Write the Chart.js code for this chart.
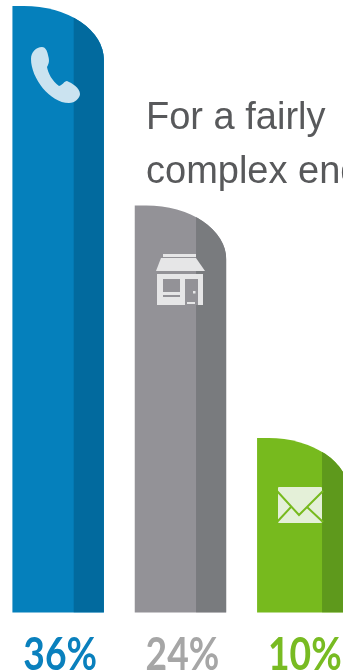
<!DOCTYPE html>
<html lang="en">
<head>
  <meta charset="UTF-8" />
  <title>For a fairly complex enquiry</title>
  <script src="https://cdn.jsdelivr.net/npm/chart.js"></script>
  <style>
    html, body {
      margin: 0;
      padding: 0;
      background: #fff;
      overflow: hidden;
    }
    #page {
      position: relative;
      width: 343px;
      height: 672px;
      overflow: hidden;
    }
    /* wider than the page so the last bar runs off the right edge */
    #chart-container {
      position: absolute;
      left: -3px;
      top: 0;
      width: 367px;
      height: 672px;
    }
    #icons {
      position: absolute;
      left: 0;
      top: 0;
    }
    #heading {
      position: absolute;
      left: 146px;
      top: 89px;
      font-family: 'Liberation Sans', Arial, sans-serif;
      font-size: 38px;
      line-height: 54px;
      color: #58595b;
      white-space: nowrap;
    }
  </style>
</head>
<body>
  <div id="page">
    <div id="chart-container">
      <canvas id="channelChart"></canvas>
    </div>

    <svg id="icons" width="343" height="672">
      <!-- phone -->
      <path fill="#cbe3f0" d="M31 59C31 52 36 47 42 47C45 47 47 50 48 55C49 59 50 62 47 67C48 73 52 81 59 86C63 85 64 81 67 81C72 83 80 88 80 94C80 98 75 103 69 103C50 103 31 78 31 59Z"/>
      <!-- shop -->
      <g fill="#e6e6e7">
        <rect x="163" y="254" width="33" height="3"/>
        <path d="M161 258H196L205 271H156Z"/>
        <rect x="157" y="274" width="46" height="31"/>
      </g>
      <g fill="#939297">
        <rect x="163" y="279" width="17" height="13"/>
        <rect x="163" y="295" width="17" height="2"/>
        <rect x="185" y="279" width="13" height="26"/>
      </g>
      <g fill="#e6e6e7">
        <rect x="193" y="291" width="2.5" height="2.5"/>
        <rect x="187" y="302" width="8" height="2"/>
      </g>
      <!-- envelope -->
      <rect x="278" y="487" width="44" height="36" rx="1" fill="#e4f0d8"/>
      <g fill="none" stroke="#77ba1e" stroke-width="2">
        <path d="M277 491L299 515L323 491"/>
        <path d="M277 522L291 507M323 522L307 507"/>
      </g>
    </svg>

    <div id="heading">For a fairly<br>complex enquiry</div>
  </div>

  <script>
    const categories = ['Phone', 'Store', 'Email'];
    const shares = [36, 24, 10];
    const barColors = ['#0580bc', '#939297', '#77ba1e'];
    const shadeColors = ['#026a9e', '#797b7e', '#5e991c'];
    const labelColors = ['#0a80bd', '#a6a6a6', '#78bb22'];
    const shadeStarts = [0.67, 0.67, 0.71];

    const axisMin = -0.5;

    // Bars have a square left corner and a long elliptical right shoulder,
    // which borderRadius can't do, so they are painted from the bar elements.
    const shoulderBars = {
      id: 'shoulderBars',
      beforeDatasetsDraw(chart) {
        const { ctx } = chart;
        chart.getDatasetMeta(0).data.forEach((bar, i) => {
          const left = bar.x - bar.width / 2;
          const right = bar.x + bar.width / 2;
          const rx = 80;
          const ry = 54;

          ctx.save();
          ctx.beginPath();
          ctx.moveTo(left, bar.base);
          ctx.lineTo(left, bar.y);
          ctx.lineTo(right - rx, bar.y);
          ctx.ellipse(right - rx, bar.y + ry, rx, ry, 0, -Math.PI / 2, 0);
          ctx.lineTo(right, bar.base);
          ctx.closePath();
          ctx.fillStyle = barColors[i];
          ctx.fill();
          ctx.clip();
          ctx.fillStyle = shadeColors[i];
          const shadeX = left + bar.width * shadeStarts[i];
          ctx.fillRect(shadeX, bar.y, right - shadeX, bar.base - bar.y);
          ctx.restore();

          // narrowed percentage under the bar
          ctx.save();
          ctx.translate(bar.x + 2, 670);
          ctx.scale(0.81, 1);
          ctx.font = "700 46px Lato, sans-serif";
          ctx.textAlign = 'center';
          ctx.textBaseline = 'alphabetic';
          ctx.fillStyle = labelColors[i];
          ctx.fillText(shares[i] + '%', 0, 0);
          ctx.restore();
        });
        return false;
      }
    };

    new Chart(document.getElementById('channelChart'), {
      type: 'bar',
      data: {
        labels: categories,
        datasets: [{
          data: shares,
          base: axisMin,
          backgroundColor: barColors,
          categoryPercentage: 1,
          barPercentage: 0.748
        }]
      },
      options: {
        responsive: true,
        maintainAspectRatio: false,
        animation: false,
        layout: { padding: { top: 6, bottom: 59.5 } },
        plugins: {
          legend: { display: false },
          tooltip: { enabled: false }
        },
        scales: {
          x: { display: false },
          y: { display: false, min: axisMin, max: 36 }
        }
      },
      plugins: [shoulderBars]
    });
  </script>
</body>
</html>
